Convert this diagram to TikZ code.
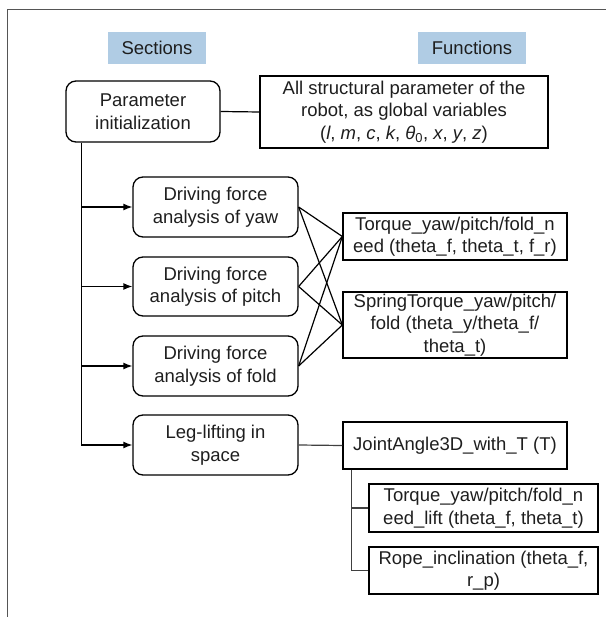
\documentclass[tikz,border=0pt]{standalone}
\usepackage{fontspec}
\setmainfont{Liberation Sans}
\usetikzlibrary{arrows.meta}
\definecolor{hdrblue}{RGB}{176,204,228}
\definecolor{framegray}{RGB}{85,85,85}
\definecolor{textgray}{RGB}{30,30,30}
\tikzset{
  base/.style={align=center, inner sep=2pt, text=textgray, font=\fontsize{18.5}{22.5}\selectfont},
  hdr/.style={base, fill=hdrblue, minimum width=98pt, minimum height=32pt},
  secbox/.style={base, draw, line width=1.3pt, rounded corners=10pt, minimum width=165pt, minimum height=60pt},
  funbox/.style={base, draw, line width=1.3pt, minimum width=224pt, minimum height=47pt},
  link/.style={line width=1.2pt},
  arr/.style={line width=1.3pt, -{Latex[length=9pt,width=7pt]}},
}
\begin{document}
\begin{tikzpicture}[x=1pt,y=-1pt]
\useasboundingbox (0,0) rectangle (606,617);
\draw[framegray, line width=1pt] (7,617) -- (7,10) -- (606,10);

\node[hdr] (sec) at (157,48) {Sections};
\node[hdr, minimum width=108pt] (fun) at (472,48) {Functions};

\node[secbox, minimum width=154pt, minimum height=61pt] (param) at (143,111.5) {Parameter\\initialization};
\node[funbox, minimum width=288pt, minimum height=72pt] (struct) at (404,112)
  {All structural parameter of the\\robot, as global variables\\(\textit{l}, \textit{m}, \textit{c}, \textit{k}, \textit{θ}\textsubscript{0}, \textit{x}, \textit{y}, \textit{z})};

\node[secbox] (yaw) at (215.5,207) {Driving force\\analysis of yaw};
\node[secbox, minimum height=59pt] (pitch) at (215.5,286.5) {Driving force\\analysis of pitch};
\node[secbox] (fold) at (215.5,366) {Driving force\\analysis of fold};
\node[secbox] (leg) at (215.5,445) {Leg-lifting in\\space};

\node[funbox] (torque) at (455,236.5) {Torque\_yaw/pitch/fold\_n\\eed (theta\_f, theta\_t, f\_r)};
\node[funbox, minimum height=66pt] (spring) at (455,325) {SpringTorque\_yaw/pitch/\\fold (theta\_y/theta\_f/\\theta\_t)};
\node[funbox] (joint) at (455,445.5) {JointAngle3D\_with\_T (T)};
\node[funbox, minimum width=229pt, minimum height=48pt] (tlift) at (483.5,508) {Torque\_yaw/pitch/fold\_n\\eed\_lift (theta\_f, theta\_t)};
\node[funbox, minimum width=229pt] (rope) at (483.5,570.5) {Rope\_inclination (theta\_f,\\r\_p)};

\draw[link] (param.east) -- (struct.west);

\coordinate (t0) at ([xshift=16pt]param.south west);
\draw[arr] (t0) |- (leg.west);
\draw[arr] (t0 |- yaw.west) -- (yaw.west);
\draw[arr] (t0 |- pitch.west) -- (pitch.west);
\draw[arr] (t0 |- fold.west) -- (fold.west);

\foreach \s in {yaw,pitch,fold}{
  \draw[link] (\s.east) -- (torque.west);
  \draw[link] (\s.east) -- (spring.west);
}

\draw[link, black!75] (leg.east) -- (joint.west);
\coordinate (j0) at ([xshift=9pt]joint.south west);
\draw[link, black!75] (j0) |- (rope.west);
\draw[link, black!75] (j0 |- tlift.west) -- (tlift.west);
\end{tikzpicture}
\end{document}
